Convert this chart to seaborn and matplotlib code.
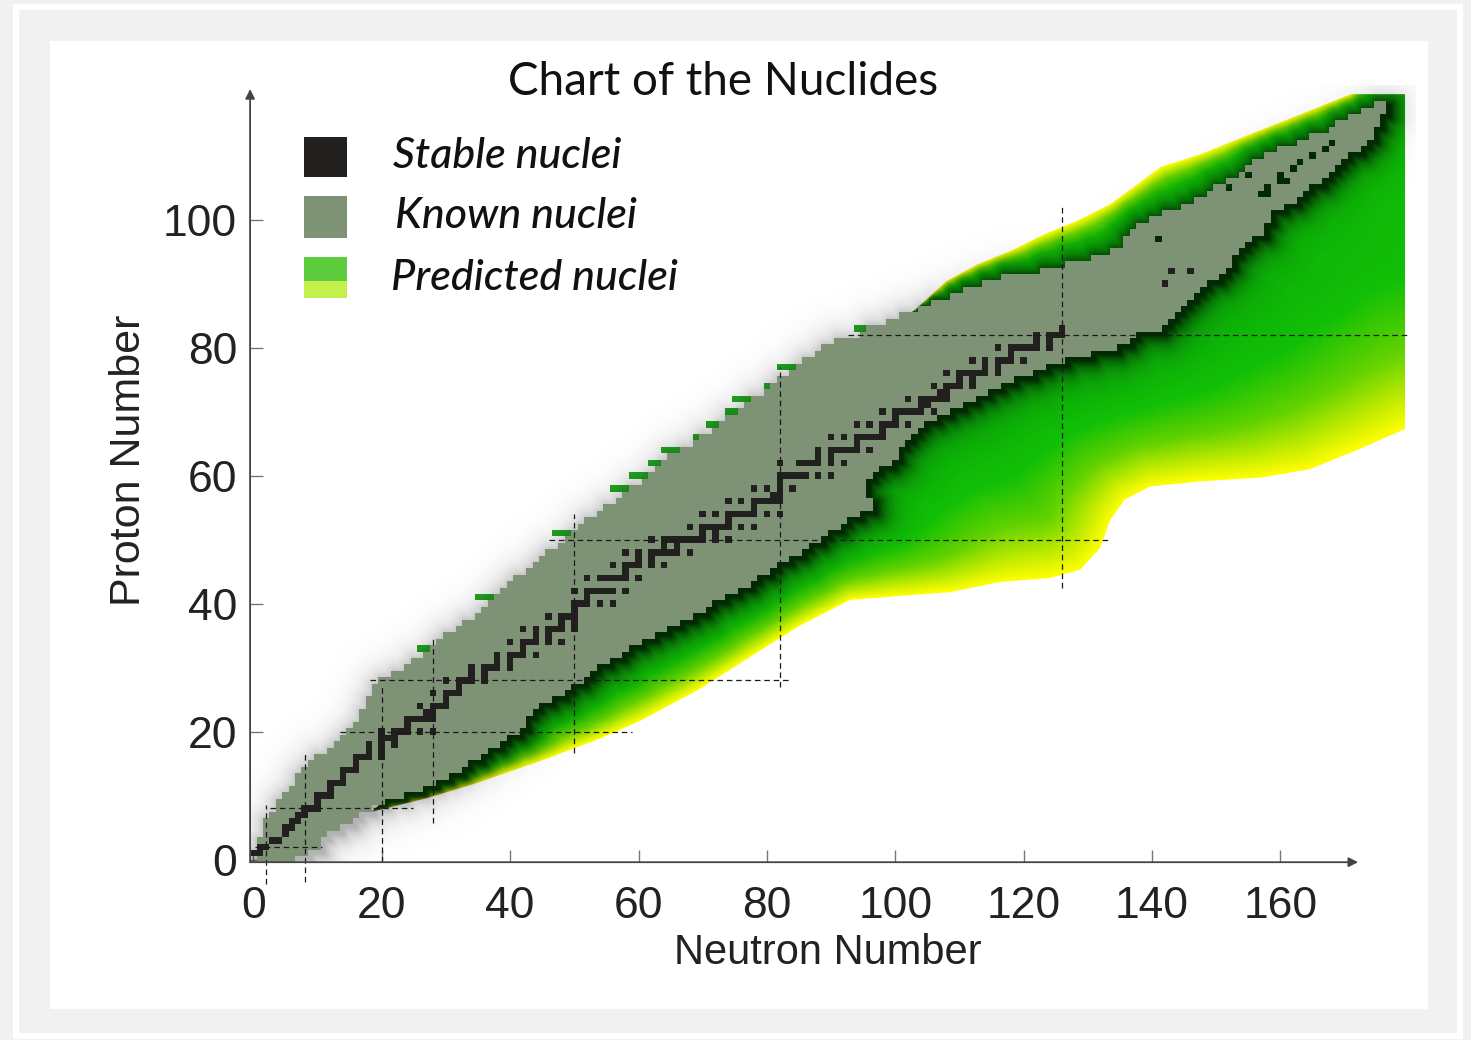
import numpy as np
import matplotlib
matplotlib.use("Agg")
import matplotlib.pyplot as plt
import seaborn as sns
from matplotlib.colors import LinearSegmentedColormap, ListedColormap
from matplotlib.patches import Polygon, Rectangle

# ------------------------------------------------------------------ data
Z_values = list(range(0, 119))
known_nmin = [1, 0, 1, 1, 2, 2, 2, 3, 4, 4,
              5, 6, 7, 7, 8, 9, 10, 12, 13, 14,
              15, 16, 17, 17, 18, 18, 19, 19, 20, 22,
              24, 25, 27, 28, 29, 30, 32, 33, 35, 36,
              37, 38, 39, 40, 41, 43, 44, 45, 46, 48,
              49, 50, 51, 52, 54, 55, 57, 58, 59, 61,
              62, 63, 64, 65, 67, 69, 70, 72, 73, 74,
              76, 77, 78, 80, 81, 82, 84, 85, 86, 88,
              89, 91, 95, 96, 99, 101, 104, 106, 109, 111,
              114, 117, 123, 127, 131, 134, 136, 136, 137, 138,
              140, 142, 145, 147, 149, 150, 152, 154, 155, 156,
              158, 160, 163, 165, 168, 169, 171, 173, 175]
known_nmax = [6, 8, 10, 10, 11, 13, 15, 16, 18, 20,
              23, 26, 28, 30, 32, 33, 35, 36, 38, 39,
              41, 42, 42, 43, 44, 46, 48, 49, 51, 52,
              53, 55, 57, 58, 60, 62, 64, 66, 68, 70,
              71, 73, 75, 77, 78, 80, 81, 83, 85, 86,
              88, 89, 91, 92, 94, 96, 96, 95, 95, 95,
              96, 97, 99, 100, 100, 101, 102, 103, 104, 106,
              108, 110, 112, 114, 116, 118, 121, 123, 126, 130,
              134, 136, 137, 141, 142, 143, 144, 145, 146, 147,
              148, 150, 151, 152, 152, 153, 154, 155, 157, 157,
              158, 158, 160, 162, 163, 164, 166, 167, 168, 169,
              170, 172, 173, 174, 174, 175, 175, 176, 176]
holes_Z = [97, 104, 104, 105, 105, 106, 106, 107, 107, 108, 109, 110, 111, 112]
holes_N = [141, 157, 158, 152, 158, 160, 161, 155, 160, 162, 163, 165, 167, 168]

stable_n_by_z = [
    [], [0, 1], [1, 2], [3, 4], [5], [5, 6], [6, 7], [7, 8], [8, 9, 10], [10],
    [10, 11, 12], [12], [12, 13, 14], [14], [14, 15, 16], [16], [16, 17, 18, 20],
    [18, 20], [18, 20, 22], [20, 21, 22], [20, 22, 23, 24, 26, 28], [24],
    [24, 25, 26, 27, 28], [27, 28], [26, 28, 29, 30], [30], [28, 30, 31, 32], [32],
    [30, 32, 33, 34, 36], [34, 36], [34, 36, 37, 38, 40], [38, 40],
    [38, 40, 41, 42, 44], [42], [40, 42, 43, 44, 46, 48], [44, 46],
    [42, 44, 46, 47, 48, 50], [48, 50], [46, 48, 49, 50], [50],
    [50, 51, 52, 54, 56], [52], [50, 52, 53, 54, 55, 56, 58], [],
    [52, 54, 55, 56, 57, 58, 60], [58], [56, 58, 59, 60, 62, 64], [60, 62],
    [58, 60, 62, 63, 64, 65, 66, 68], [64, 66],
    [62, 64, 65, 66, 67, 68, 69, 70, 72, 74], [70, 72],
    [68, 70, 71, 72, 73, 74, 76, 78], [74], [70, 72, 74, 75, 76, 77, 78, 80, 82],
    [78], [74, 76, 78, 79, 80, 81, 82], [81, 82], [78, 80, 82, 84], [82],
    [82, 83, 84, 85, 86, 88, 90], [], [82, 85, 86, 87, 88, 90, 92], [88, 90],
    [88, 90, 91, 92, 93, 94, 96], [94], [90, 92, 94, 95, 96, 97, 98], [98],
    [94, 96, 98, 99, 100, 102], [100], [98, 100, 101, 102, 103, 104, 106],
    [104, 105], [102, 104, 105, 106, 107, 108], [107, 108],
    [106, 108, 109, 110, 112], [110, 112], [108, 110, 111, 112, 113, 114, 116],
    [114, 116], [112, 114, 116, 117, 118, 120], [118],
    [116, 118, 119, 120, 121, 122, 124], [122, 124], [122, 124, 125, 126], [126],
    [], [], [], [], [], [], [142], [], [143, 146]]

# predicted nuclei just beyond the proton-rich known edge
pred_left_Z = [33, 41, 51, 58, 60, 62, 64, 66, 68, 70, 72, 74, 77, 83]
pred_left_width = [2, 3, 3, 3, 3, 2, 3, 1, 2, 2, 3, 1, 3, 2]

# predicted region boundaries
pred_low_N = [18.5, 20.2, 27, 34.3, 44.7, 54, 60.3, 69.6, 79, 85.2, 93, 100.8,
              108.6, 116.4, 124.1, 128.8, 131.9, 133.5, 135.8, 139.7, 147.5,
              156.9, 164.6, 172.4, 179.4]
pred_low_Z = [7.5, 7.9, 9.6, 11.8, 15.4, 18.9, 21.7, 26.7, 32.7, 36.6, 40.6, 41.2,
              41.8, 43.4, 44, 45.3, 48.7, 53.1, 56.3, 58.3, 59.1, 59.7, 61, 64.2, 67.3]
pred_up_N = [96, 99.2, 103.4, 108, 112.8, 118.4, 123, 128.3, 133.5, 141.3, 147.5,
             154.2, 162, 171]
pred_up_Z = [82, 83, 86.2, 90.4, 93, 95.3, 97.6, 99.8, 102.4, 108.2, 110.2, 112.9,
             116, 119.6]
pred_right_N = 179.4
pred_top_Z = 119.6

# magic-number guide lines
magic_h_Z = [2, 8, 20, 28, 50, 82]
magic_h_N0 = [0.3, 2.6, 13.5, 18.2, 46, 92.7]
magic_h_N1 = [10.7, 24.8, 59, 83.6, 133.5, 180]
magic_v_N = [2, 8, 20, 28, 50, 82, 126]
magic_v_Z0 = [-3.8, -3.5, -0.4, 5.7, 16.7, 27, 42.5]
magic_v_Z1 = [8.6, 17, 27, 35, 54, 77, 102]

x_ticks = [0, 20, 40, 60, 80, 100, 120, 140, 160]
y_ticks = [0, 20, 40, 60, 80, 100]
legend_labels = ["Stable nuclei", "Known nuclei", "Predicted nuclei"]

# ------------------------------------------------------------------ style
STABLE = "#221f1f"
KNOWN = "#7e9276"
PRED_CELL = "#22a822"
W, H = 1471, 1040

sns.set_theme(style="white")
plt.rcParams["font.family"] = ["Liberation Sans", "DejaVu Sans"]
NARROW = ["Liberation Sans Narrow", "Liberation Sans", "DejaVu Sans"]


def fx(px):
    return px / W


def fy(py):
    return 1 - py / H


fig = plt.figure(figsize=(W / 100, H / 100), dpi=100, facecolor="#f1f1f1")
fig.add_artist(Rectangle((fx(15.5), fy(1036)), fx(1459.5) - fx(15.5), fy(6.5) - fy(1036),
                         fill=False, ec="white", lw=4.5, zorder=-2))
fig.add_artist(Rectangle((fx(50), fy(1009)), fx(1428) - fx(50), fy(41) - fy(1009),
                         fc="white", ec="none", zorder=-1))

x_lo, x_hi, y_lo, y_hi = -0.5, 181.0, -0.4, 121.0
ax = fig.add_axes([fx(250.1), fy(862.2), fx(1415.3) - fx(250.1), fy(85.2) - fy(862.2)])
ax.set_xlim(x_lo, x_hi)
ax.set_ylim(y_lo, y_hi)
ax.set_facecolor("white")
for s in ax.spines.values():
    s.set_visible(False)

# ------------------------------------------------------------------ gradient field
res = 0.25
gx = np.arange(x_lo, x_hi, res) + res / 2
gy = np.arange(y_lo, y_hi, res) + res / 2
GX, GY = np.meshgrid(gx, gy)
extent = (x_lo, x_lo + len(gx) * res, y_lo, y_lo + len(gy) * res)


def band_distance(dx=0.0, dy=0.0):
    d2 = np.full(GX.shape, np.inf)
    for z, a, b in zip(Z_values, known_nmin, known_nmax):
        x0, x1 = a - 0.5 + dx, b + 0.5 + dx
        y0, y1 = z - 0.5 + dy, z + 0.5 + dy
        ddx = np.maximum(np.maximum(x0 - GX, 0), GX - x1)
        ddy = np.maximum(np.maximum(y0 - GY, 0), GY - y1)
        d2 = np.minimum(d2, ddx ** 2 + ddy ** 2)
    return np.sqrt(d2)


def poly_distance(px, py):
    d2 = np.full(GX.shape, np.inf)
    for i in range(len(px) - 1):
        ax_, ay_, bx, by = px[i], py[i], px[i + 1], py[i + 1]
        vx, vy = bx - ax_, by - ay_
        L2 = vx * vx + vy * vy
        t = np.clip(((GX - ax_) * vx + (GY - ay_) * vy) / L2, 0, 1)
        d2 = np.minimum(d2, (GX - ax_ - t * vx) ** 2 + (GY - ay_ - t * vy) ** 2)
    return np.sqrt(d2)


d_band = band_distance()
d_shadow = band_distance(0.6, -0.6)
d_edge = np.minimum(poly_distance(pred_low_N, pred_low_Z), poly_distance(pred_up_N, pred_up_Z))
frac = d_band / (d_band + d_edge + 1e-6)

pred_cmap = LinearSegmentedColormap.from_list(
    "pred", [(0.0, "#0aa80a"), (0.45, "#12c006"), (0.7, "#62d200"),
             (0.88, "#c4ec00"), (1.0, "#ffff00")])
rgb = pred_cmap(frac)[..., :3] * (1 - 0.64 * np.exp(-d_shadow / 1.3))[..., None]

verts = list(zip(pred_low_N, pred_low_Z)) + [(pred_right_N, pred_top_Z)] + \
    list(zip(pred_up_N[::-1], pred_up_Z[::-1]))
clip = Polygon(verts, closed=True, transform=ax.transData)
im = ax.imshow(rgb, extent=extent, origin="lower", interpolation="bilinear",
               aspect="auto", zorder=1)
im.set_clip_path(clip)

shadow = np.zeros(GX.shape + (4,))
shadow[..., 3] = 0.30 * np.exp(-d_shadow / 1.8)
ax.imshow(shadow, extent=extent, origin="lower", interpolation="bilinear",
          aspect="auto", zorder=2)

# ------------------------------------------------------------------ cells
ncol = 182
Xe = np.arange(ncol + 1) - 0.5
Ye = np.arange(len(Z_values) + 1) - 0.5

pred_cells = np.zeros((len(Z_values), ncol))
for z, w in zip(pred_left_Z, pred_left_width):
    a = known_nmin[z]
    pred_cells[z, a - w:a] = 1
ax.pcolormesh(Xe, Ye, np.ma.masked_equal(pred_cells, 0), cmap=ListedColormap([PRED_CELL]),
              vmin=0.5, vmax=1.5, zorder=1.5, antialiased=False, edgecolors="none", linewidth=0)

cat = np.zeros((len(Z_values), ncol))
for z, a, b in zip(Z_values, known_nmin, known_nmax):
    cat[z, a:b + 1] = 2
for z, n in zip(holes_Z, holes_N):
    cat[z, n] = 0
for z, ns in enumerate(stable_n_by_z):
    for n in ns:
        cat[z, n] = 3
ax.pcolormesh(Xe, Ye, np.ma.masked_equal(cat, 0), cmap=ListedColormap([KNOWN, STABLE]),
              vmin=1.5, vmax=3.5, zorder=4, antialiased=False, edgecolors="none", linewidth=0)

# ------------------------------------------------------------------ magic lines
for z, n0, n1 in zip(magic_h_Z, magic_h_N0, magic_h_N1):
    ax.plot([n0, n1], [z, z], ls=(0, (4.5, 3)), color="#1a1a1a", lw=0.9, zorder=6, clip_on=False)
for n, z0, z1 in zip(magic_v_N, magic_v_Z0, magic_v_Z1):
    ax.plot([n, n], [z0, z1], ls=(0, (4.5, 3)), color="#1a1a1a", lw=0.9, zorder=6, clip_on=False)

# ------------------------------------------------------------------ axes
arrow = dict(arrowstyle="-|>", color="#444444", lw=1.3, mutation_scale=14, shrinkA=0, shrinkB=0)
ax.annotate("", xy=(172.1, y_lo), xytext=(x_lo, y_lo), arrowprops=arrow,
            annotation_clip=False, zorder=7)
ax.annotate("", xy=(x_lo, 120.4), xytext=(x_lo, y_lo), arrowprops=arrow,
            annotation_clip=False, zorder=7)

ax.set_xticks(x_ticks)
ax.set_yticks(y_ticks)
ax.set_xticklabels([str(v) for v in x_ticks])
ax.set_yticklabels([str(v) for v in y_ticks])
ax.tick_params(axis="x", direction="in", length=9, width=1.0, color="#777777",
               pad=17, labelcolor="#222222", bottom=True)
ax.tick_params(axis="y", direction="in", length=9, width=1.0, color="#777777",
               pad=9.4, labelcolor="#222222", left=True)
for lab in ax.get_xticklabels() + ax.get_yticklabels():
    lab.set_fontfamily(NARROW)
    lab.set_fontsize(32)

ax.set_xlabel("Neutron Number", fontsize=30, color="#222222", family=NARROW, va="top")
ax.xaxis.set_label_coords(0.496, -0.0911)
ax.set_ylabel("Proton Number", fontsize=31, color="#222222", va="bottom")
ax.yaxis.set_label_coords(-0.0868, 0.5176)

# ------------------------------------------------------------------ title & legend
fig.text(fx(723), fy(95), "Chart of the Nuclides", ha="center", va="baseline",
         fontsize=33, color="#111111", family=["Lato", "DejaVu Sans"])

fig.add_artist(Rectangle((fx(304), fy(177)), fx(347) - fx(304), fy(137) - fy(177),
                         fc=STABLE, ec="none", zorder=5))
fig.add_artist(Rectangle((fx(304), fy(238)), fx(347) - fx(304), fy(196) - fy(238),
                         fc=KNOWN, ec="none", zorder=5))
fig.add_artist(Rectangle((fx(304), fy(281)), fx(347) - fx(304), fy(257) - fy(281),
                         fc="#5dcc3d", ec="none", zorder=5))
fig.add_artist(Rectangle((fx(304), fy(298)), fx(347) - fx(304), fy(281) - fy(298),
                         fc="#c3f04b", ec="none", zorder=5))
for txt, x, y in zip(legend_labels, [393, 395, 391], [168, 228, 290]):
    fig.text(fx(x), fy(y), txt, ha="left", va="baseline", fontsize=31, style="italic",
             weight="medium", color="#111111", family=["Lato", "DejaVu Sans"])

fig.savefig("out.png", dpi=100, facecolor=fig.get_facecolor())
